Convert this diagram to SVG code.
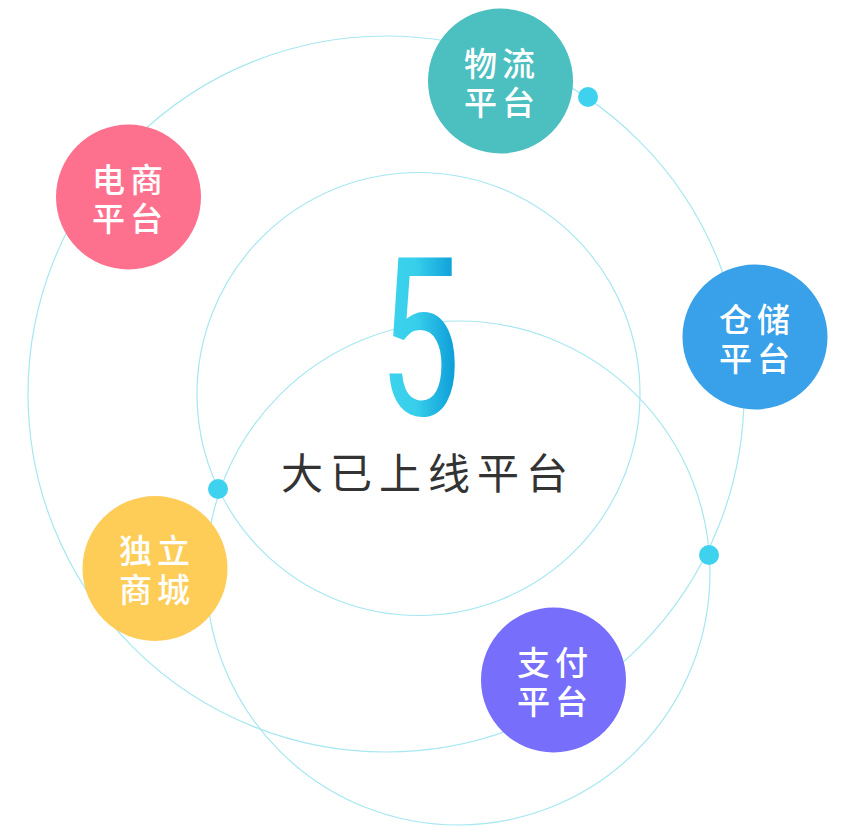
<svg xmlns="http://www.w3.org/2000/svg" width="854" height="840" viewBox="0 0 854 840">
<style>
.ring{fill:none;stroke:#a6e7f1;stroke-width:1.2}
.dot{fill:#3ed2ee}
.lbl{font-family:"Noto Sans CJK SC","Noto Sans",sans-serif;font-size:33px;font-weight:500;fill:#ffffff;letter-spacing:5px;text-anchor:middle}
.title{font-family:"Noto Sans CJK SC","Noto Sans",sans-serif;font-size:42px;fill:#333333;letter-spacing:7px}
</style>
<defs>
<linearGradient id="g5" x1="0" y1="0" x2="1" y2="0">
<stop offset="0" stop-color="#3ed4ee"/>
<stop offset="0.45" stop-color="#38cfeb"/>
<stop offset="1" stop-color="#0797d6"/>
</linearGradient>
</defs>
<rect width="854" height="840" fill="#ffffff"/>
<g id="connectors">
<circle class="ring" cx="386" cy="394" r="358"/>
<circle class="ring" cx="418.5" cy="394" r="221.5"/>
<circle class="ring" cx="458" cy="573" r="252"/>
<circle class="dot" cx="588" cy="97" r="10"/>
<circle class="dot" cx="218" cy="489" r="10"/>
<circle class="dot" cx="709" cy="555" r="10"/>
</g>
<g id="center">
<text transform="translate(419.5,415) scale(0.66,1)" x="0" y="0" text-anchor="middle" font-family="Roboto,'Liberation Sans',sans-serif" font-weight="400" font-size="221" fill="url(#g5)">5</text>
<text class="title" x="281" y="489">大已上线平台</text>
</g>
<g id="node-wuliu">
<circle cx="500.5" cy="81" r="72.5" fill="#4cbfc0"/>
<text class="lbl"><tspan x="502" y="76">物流</tspan><tspan x="502" y="115">平台</tspan></text>
</g>
<g id="node-dianshang">
<circle cx="128.5" cy="197" r="72.5" fill="#fd718f"/>
<text class="lbl"><tspan x="130" y="192">电商</tspan><tspan x="130" y="231">平台</tspan></text>
</g>
<g id="node-cangchu">
<circle cx="755" cy="337" r="72.5" fill="#38a1e9"/>
<text class="lbl"><tspan x="757" y="332">仓储</tspan><tspan x="757" y="371">平台</tspan></text>
</g>
<g id="node-duli">
<circle cx="155" cy="568.5" r="72.5" fill="#fecd58"/>
<text class="lbl"><tspan x="157" y="563">独立</tspan><tspan x="157" y="602">商城</tspan></text>
</g>
<g id="node-zhifu">
<circle cx="553.5" cy="680" r="72.5" fill="#776ffc"/>
<text class="lbl"><tspan x="555" y="675">支付</tspan><tspan x="555" y="714">平台</tspan></text>
</g>
</svg>
